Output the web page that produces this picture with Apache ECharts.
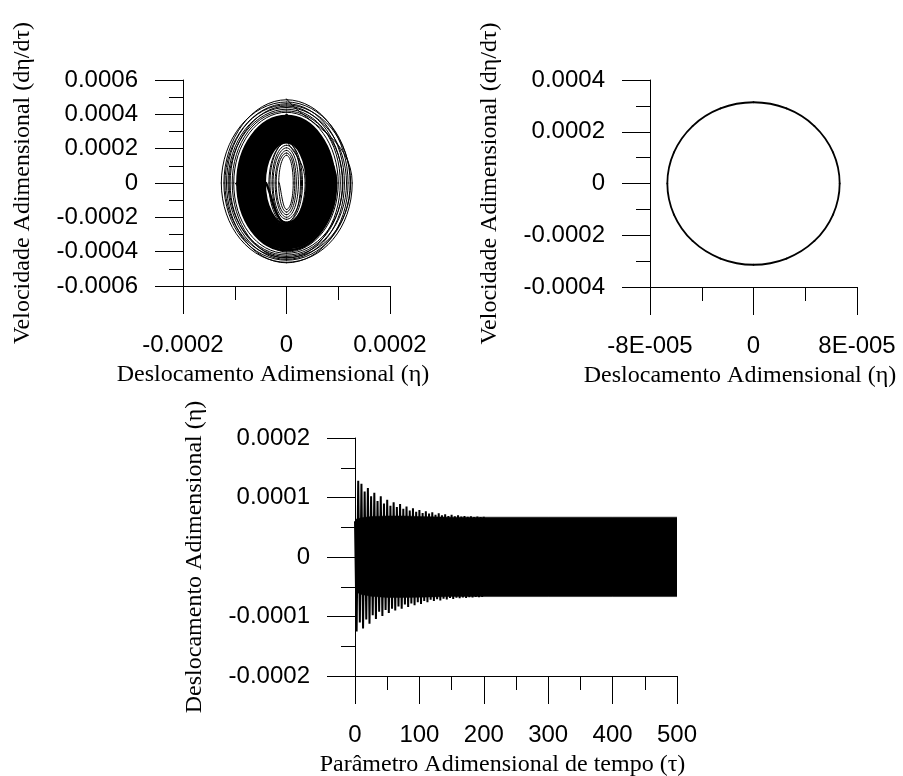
<!DOCTYPE html>
<html>
<head>
<meta charset="utf-8">
<script src="https://cdn.jsdelivr.net/npm/echarts@6/dist/echarts.min.js"></script>
<style>
  html, body { margin: 0; padding: 0; background: #ffffff; }
  #chart { width: 903px; height: 776px; }
</style>
</head>
<body>
<div id="chart"></div>
<script>
// ---------------------------------------------------------------
// Phase portrait (top left): trajectory turning points.
// eta in units of 1e-5, velocity in units of 1e-4.
// Each loop: vel top (+), eta right (+), vel bottom (-), eta left (-).
// ---------------------------------------------------------------
const outerVel = [4.90,-4.62, 4.72,-4.50, 4.85,-4.65, 4.55,-4.35, 4.62,-4.45,
                  4.40,-4.28, 4.48,-4.20, 4.30,-4.38, 4.20,-4.10, 4.12,-4.02];
const outerEta = [12.7,-12.6, 12.3,-12.1, 11.9,-11.6, 12.4,-11.9, 11.2,-11.3,
                  11.6,-10.9, 10.8,-11.1, 10.4,-10.5, 10.9,-10.2, 10.0,-9.9];

const denseVel = [3.98,-3.92, 3.90,-3.80, 3.84,-3.75, 3.76,-3.70, 3.70,-3.62,
                  3.64,-3.55, 3.58,-3.50, 3.52,-3.44, 3.46,-3.38, 3.40,-3.33,
                  3.34,-3.27, 3.28,-3.21, 3.22,-3.16, 3.16,-3.10, 3.10,-3.04,
                  3.04,-2.98, 2.98,-2.92, 2.92,-2.86, 2.86,-2.80, 2.80,-2.74,
                  2.74,-2.68, 2.66,-2.60, 2.58,-2.52, 2.48,-2.42, 2.38,-2.34];
const denseEta = [9.6,-9.5, 9.3,-9.2, 9.0,-9.35, 8.8,-8.9, 8.55,-8.7,
                  8.3,-8.45, 8.1,-8.2, 7.85,-8.0, 7.6,-7.75, 7.4,-7.5,
                  7.15,-7.3, 6.9,-7.05, 6.7,-6.8, 6.45,-6.6, 6.2,-6.35,
                  6.0,-6.1, 5.75,-5.9, 5.5,-5.65, 5.3,-5.4, 5.05,-5.2,
                  4.8,-4.95, 4.6,-4.7, 4.35,-4.45, 4.1,-4.2, 3.9,-3.95];

const innerVel = [2.50,-2.42, 2.35,-2.28, 2.42,-2.30, 2.20,-2.12,
                  2.05,-2.00, 1.90,-1.85, 1.75,-1.70, 1.62,-1.55];
const innerEta = [3.6,-3.4, 3.1,-3.2, 2.7,-2.8, 2.9,-2.6,
                  2.3,-2.2, 1.9,-2.0, 1.6,-1.5, 1.3,-1.4];

// Limit cycle (top right): points around the closed orbit.
// eta in units of 1e-5, velocity in units of 1e-4.
const cycleEta = [0, 2.55, 4.71, 6.15, 6.66, 6.15, 4.71, 2.55,
                  0, -2.55, -4.71, -6.15, -6.66, -6.15, -4.71, -2.55];
const cycleVel = [3.14, 2.90, 2.22, 1.20, 0, -1.20, -2.22, -2.90,
                  -3.14, -2.90, -2.22, -1.20, 0, 1.20, 2.22, 2.90];

// Time response (bottom): displacement in units of 1e-5, sampled every 2.5 of tau.
const tauStep = 2.5;
const dispSamples = [
  6.0, -12.5, 12.8, -11.0, 12.3, -12.0, 11.0, -10.5, 11.6, -11.2,
  10.2, -9.8, 10.8, -10.4, 9.4, -9.2, 10.2, -9.9, 9.0, -8.9,
  9.6, -9.4, 8.6, -8.7, 9.2, -9.0, 8.4, -8.3, 8.9, -8.7,
  8.1, -8.0, 8.5, -8.4, 7.8, -7.8, 8.2, -8.1, 7.6, -7.6,
  7.9, -7.9, 7.4, -7.4, 7.7, -7.6, 7.3, -7.2, 7.5, -7.4,
  7.1, -7.1, 7.35, -7.3, 7.0, -7.0, 7.2, -7.15, 6.9, -6.9,
  7.1, -7.05, 6.85, -6.85, 7.0, -6.95, 6.8, -6.8, 6.9, -6.9,
  6.75, -6.75, 6.85, -6.8, 6.7, -6.7, 6.8, -6.75, 6.7, -6.7,
  6.75
];
// Dense oscillation band: upper / lower extent (units of 1e-5).
const bandTau   = [0, 10, 25, 50, 75, 100, 150, 200, 300, 400, 500];
const bandUpper = [6.3, 6.6, 6.8, 6.9, 6.9, 6.8, 6.7, 6.7, 6.7, 6.7, 6.7];
const bandLower = [-5.8, -6.3, -6.6, -6.8, -6.8, -6.75, -6.65, -6.65, -6.65, -6.65, -6.65];

// Tick labels
const leftEtaLabels  = ['-0.0002', '0', '0.0002'];
const leftVelLabels  = ['-0.0006', '-0.0004', '-0.0002', '0', '0.0002', '0.0004', '0.0006'];
const rightEtaLabels = ['-8E-005', '0', '8E-005'];
const rightVelLabels = ['-0.0004', '-0.0002', '0', '0.0002', '0.0004'];
const tauLabels      = ['0', '100', '200', '300', '400', '500'];
const dispLabels     = ['-0.0002', '-0.0001', '0', '0.0001', '0.0002'];

// Axis titles
const etaTitle  = 'Deslocamento Adimensional (\u03B7)';
const velTitle  = 'Velocidade Adimensional (d\u03B7/d\u03C4)';
const tauTitle  = 'Par\u00E2metro Adimensional de tempo (\u03C4)';

// ---------------------------------------------------------------
const E5 = 1e-5, E4 = 1e-4;

function trajectory(vel, eta) {
  const pts = [];
  for (let i = 0; i < vel.length; i++) {
    pts.push([0, vel[i] * E4]);
    pts.push([eta[i] * E5, 0]);
  }
  return pts;
}

const outerPts = trajectory(outerVel, outerEta);
const densePts = trajectory(denseVel, denseEta);
const innerPts = trajectory(innerVel, innerEta);
const cyclePts = cycleEta.map((e, i) => [e * E5, cycleVel[i] * E4]);
const dispPts = dispSamples.map((d, i) => [i * tauStep, d * E5]);
const bandUpPts = bandTau.map((t, i) => [t, bandUpper[i] * E5]);
const bandLoPts = bandTau.map((t, i) => [t, bandLower[i] * E5]);

function labelFor(labels) {
  return function (v) {
    let best = labels[0], d = Infinity;
    labels.forEach(function (s) {
      const e = Math.abs(parseFloat(s) - v);
      if (e < d) { d = e; best = s; }
    });
    return best;
  };
}

const SANS = '"Liberation Sans", Arial, Helvetica, sans-serif';
const SERIF = '"Liberation Serif", "Times New Roman", Times, serif';

function valueAxis(gridIndex, min, max, interval, labels, isX, name) {
  return {
    type: 'value',
    gridIndex: gridIndex,
    min: min, max: max, interval: interval,
    axisLine: { show: true, onZero: false, lineStyle: { color: '#000', width: 1 } },
    axisTick: { show: true, inside: false, length: 28, lineStyle: { color: '#000', width: 1 } },
    minorTick: { show: true, splitNumber: 2, length: 14, lineStyle: { color: '#000', width: 1 } },
    splitLine: { show: false },
    minorSplitLine: { show: false },
    axisLabel: {
      show: true, color: '#000', fontFamily: SANS, fontSize: 24,
      margin: isX ? 47 : 45,
      showMinLabel: true, showMaxLabel: true,
      formatter: labelFor(labels)
    },
    name: name,
    nameLocation: 'middle',
    nameGap: isX ? 77 : 148,
    nameTextStyle: {
      color: '#000', fontFamily: SERIF, fontSize: 24,
      padding: isX ? [0, 27, 0, 0] : [0, 0, 0, 0]
    }
  };
}

// Curve through the given points (Catmull-Rom style cubic segments),
// each segment placed with the axis scales via api.coord.
function curveSeries(name, points, gridIdx, k, width, closed) {
  const n = points.length;
  return {
    type: 'custom', name: name,
    xAxisIndex: gridIdx, yAxisIndex: gridIdx,
    silent: true, animation: false,
    encode: { x: 0, y: 1 },
    data: points,
    renderItem: function (params, api) {
      const i = params.dataIndex;
      if (!closed && i >= n - 1) return null;
      const at = function (j) {
        const m = closed ? ((j % n) + n) % n : Math.max(0, Math.min(n - 1, j));
        return api.coord(points[m]);
      };
      const p0 = at(i - 1), p1 = at(i), p2 = at(i + 1), p3 = at(i + 2);
      return {
        type: 'bezierCurve',
        shape: {
          x1: p1[0], y1: p1[1], x2: p2[0], y2: p2[1],
          cpx1: p1[0] + (p2[0] - p0[0]) * k, cpy1: p1[1] + (p2[1] - p0[1]) * k,
          cpx2: p2[0] - (p3[0] - p1[0]) * k, cpy2: p2[1] - (p3[1] - p1[1]) * k
        },
        style: { stroke: '#000', lineWidth: width, fill: 'none', lineCap: 'round', lineJoin: 'round' }
      };
    }
  };
}

const lineBase = {
  type: 'line', showSymbol: false, symbol: 'none', silent: true,
  animation: false, connectNulls: false
};

const option = {
  animation: false,
  backgroundColor: '#ffffff',
  grid: [
    { left: 183, top: 80, width: 207, height: 206, containLabel: false, outerBoundsMode: 'none' },
    { left: 650, top: 80, width: 207, height: 207, containLabel: false, outerBoundsMode: 'none' },
    { left: 355, top: 438, width: 322, height: 238, containLabel: false, outerBoundsMode: 'none' }
  ],
  xAxis: [
    valueAxis(0, -0.0002, 0.0002, 0.0002, leftEtaLabels, true, etaTitle),
    valueAxis(1, -0.00008, 0.00008, 0.00008, rightEtaLabels, true, etaTitle),
    valueAxis(2, 0, 500, 100, tauLabels, true, tauTitle)
  ],
  yAxis: [
    valueAxis(0, -0.0006, 0.0006, 0.0002, leftVelLabels, false, velTitle),
    valueAxis(1, -0.0004, 0.0004, 0.0002, rightVelLabels, false, velTitle),
    valueAxis(2, -0.0002, 0.0002, 0.0001, dispLabels, false, etaTitle)
  ],
  series: [
    curveSeries('outer', outerPts, 0, 0.276, 1, false),
    curveSeries('dense', densePts, 0, 0.276, 2.4, false),
    curveSeries('inner', innerPts, 0, 0.276, 1, false),
    curveSeries('cycle', cyclePts, 1, 1 / 6, 1.8, true),
    Object.assign({}, lineBase, {
      name: 'bandUpper', xAxisIndex: 2, yAxisIndex: 2,
      lineStyle: { color: '#000', width: 0.5 },
      areaStyle: { color: '#000', opacity: 1 },
      data: bandUpPts
    }),
    Object.assign({}, lineBase, {
      name: 'bandLower', xAxisIndex: 2, yAxisIndex: 2,
      lineStyle: { color: '#000', width: 0.5 },
      areaStyle: { color: '#000', opacity: 1 },
      data: bandLoPts
    }),
    Object.assign({}, lineBase, {
      name: 'displacement', xAxisIndex: 2, yAxisIndex: 2,
      lineStyle: { color: '#000', width: 2 },
      data: dispPts
    })
  ]
};

const chart = echarts.init(document.getElementById('chart'), null, { renderer: 'canvas', devicePixelRatio: 1 });
chart.setOption(option);
</script>
</body>
</html>
